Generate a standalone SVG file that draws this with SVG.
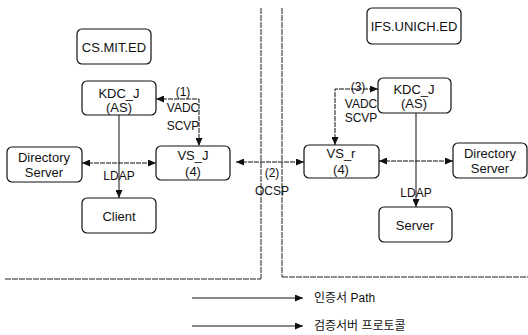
<svg xmlns="http://www.w3.org/2000/svg" width="528" height="335" viewBox="0 0 528 335">
<style>
.box{fill:#fff;stroke:#111;stroke-width:1.2}
.t{font-family:"Liberation Sans",Arial,sans-serif;font-size:13px;fill:#111;text-anchor:middle}
.s{font-family:"Liberation Sans",Arial,sans-serif;font-size:12px;fill:#111;text-anchor:middle}
.k{font-family:"Liberation Sans","Noto Sans CJK KR",sans-serif;font-size:12px;fill:#111}
.ln{fill:none;stroke:#111;stroke-width:1}
.dl{fill:none;stroke:#111;stroke-width:1;stroke-dasharray:5 1}
.sep{fill:none;stroke:#222;stroke-width:1;stroke-dasharray:6 1}
</style>
<defs>
<marker id="ah" markerWidth="8" markerHeight="7" refX="8" refY="3.5" orient="auto-start-reverse" markerUnits="userSpaceOnUse">
<path d="M0,0 L8,3.5 L0,7 z" fill="#111"/>
</marker>
</defs>
<rect width="528" height="335" fill="#fff"/>

<g id="separators">
<line class="sep" x1="261" y1="8" x2="261" y2="279"/>
<line class="sep" x1="282" y1="8" x2="282" y2="277"/>
<line class="sep" x1="5" y1="279" x2="261" y2="279"/>
<line class="sep" x1="282" y1="277" x2="528" y2="277"/>
</g>

<g id="connectors">
<line class="dl" x1="82" y1="163" x2="156" y2="163" marker-start="url(#ah)" marker-end="url(#ah)"/>
<line class="ln" x1="119" y1="115" x2="119" y2="198" marker-end="url(#ah)"/>
<path class="dl" d="M156,99 L199,99 L199,146" marker-start="url(#ah)" marker-end="url(#ah)"/>
<line class="dl" x1="236" y1="162" x2="304" y2="162" marker-start="url(#ah)" marker-end="url(#ah)"/>
<path class="dl" d="M335,145 L335,89 L378,89" marker-start="url(#ah)" marker-end="url(#ah)"/>
<line class="dl" x1="379" y1="161" x2="453" y2="161" marker-start="url(#ah)" marker-end="url(#ah)"/>
<line class="ln" x1="416" y1="113" x2="416" y2="207" marker-end="url(#ah)"/>
<text class="s" x="183" y="96">(1)</text>
<text class="s" x="183" y="112">VADC</text>
<text class="s" x="183" y="130">SCVP</text>
<text class="s" x="358" y="91">(3)</text>
<text class="s" x="361" y="108">VADC</text>
<text class="s" x="361" y="122">SCVP</text>
<text class="s" x="272" y="177">(2)</text>
<text class="s" x="272" y="195">OCSP</text>
<text class="s" x="119" y="180">LDAP</text>
<text class="s" x="416" y="197">LDAP</text>
</g>

<g id="cs-mit">
<rect class="box" x="77" y="29" width="74" height="35" rx="5"/>
<text class="t" x="114" y="51.5">CS.MIT.ED</text>
</g>
<g id="kdc-left">
<rect class="box" x="82" y="81" width="74" height="34" rx="5"/>
<text class="t" x="119" y="98">KDC_J</text>
<text class="t" x="119" y="112">(AS)</text>
</g>
<g id="dir-left">
<rect class="box" x="7" y="147" width="75" height="35" rx="5"/>
<text class="t" x="44" y="161.5">Directory</text>
<text class="t" x="44" y="177">Server</text>
</g>
<g id="vs-left">
<rect class="box" x="156" y="146" width="74" height="34" rx="5"/>
<text class="t" x="193" y="159.5">VS_J</text>
<text class="t" x="193" y="176">(4)</text>
</g>
<g id="client">
<rect class="box" x="82" y="198" width="74" height="35" rx="5"/>
<text class="t" x="119" y="220.5">Client</text>
</g>

<g id="ifs-unich">
<rect class="box" x="367" y="8" width="94" height="36" rx="5"/>
<text class="t" x="414" y="31">IFS.UNICH.ED</text>
</g>
<g id="kdc-right">
<rect class="box" x="378" y="78" width="73" height="35" rx="5"/>
<text class="t" x="414" y="93.5">KDC_J</text>
<text class="t" x="414" y="108">(AS)</text>
</g>
<g id="vs-right">
<rect class="box" x="304" y="145" width="75" height="33" rx="5"/>
<text class="t" x="341" y="158">VS_r</text>
<text class="t" x="341" y="174">(4)</text>
</g>
<g id="dir-right">
<rect class="box" x="453" y="143" width="74" height="35" rx="5"/>
<text class="t" x="490" y="157.5">Directory</text>
<text class="t" x="490" y="173">Server</text>
</g>
<g id="server">
<rect class="box" x="379" y="207" width="73" height="35" rx="5"/>
<text class="t" x="415" y="230">Server</text>
</g>

<g id="legend">
<line class="ln" x1="192" y1="298" x2="303" y2="298" marker-end="url(#ah)"/>
<line class="ln" x1="192" y1="326" x2="303" y2="326" marker-end="url(#ah)"/>
<text class="k" x="314" y="302">인증서 Path</text>
<text class="k" x="314" y="330">검증서버 프로토콜</text>
</g>
</svg>
